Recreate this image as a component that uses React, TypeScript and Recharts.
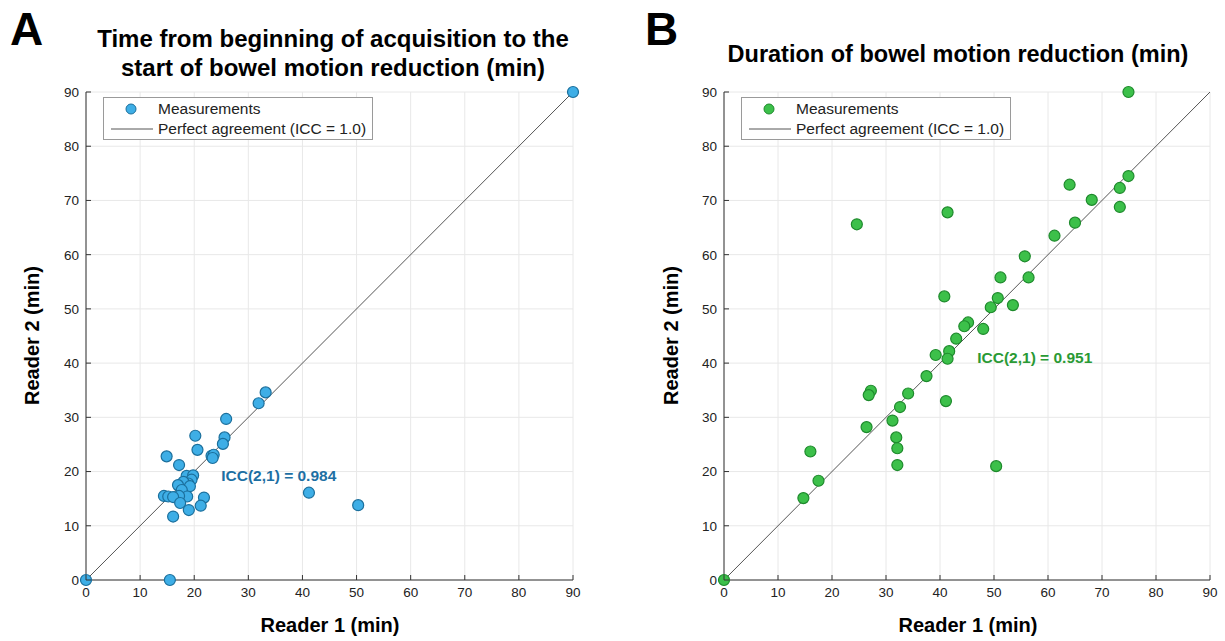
import React from "react";
import {
  ScatterChart,
  Scatter,
  XAxis,
  YAxis,
  CartesianGrid,
  ReferenceLine,
  ReferenceDot,
  Legend,
} from "recharts";

const FONT = '"Liberation Sans", Arial, Helvetica, sans-serif';

// axis ticks (min)
const ticks = [0, 10, 20, 30, 40, 50, 60, 70, 80, 90];

// Panel A: time to start of bowel motion reduction
const readerA1 = [
  0, 90, 15.5, 14.9, 17.2, 20.2, 20.6, 25.9, 25.6, 25.3, 31.9, 33.2, 23.2, 23.6,
  23.4, 18.6, 19.8, 19.5, 18.9, 18.0, 17.0, 19.2, 17.7, 18.7, 17.2, 14.4, 15.2,
  16.1, 21.8, 17.4, 21.2, 19.0, 16.1, 41.2, 50.3,
];
const readerA2 = [
  0, 90, 0, 22.8, 21.2, 26.6, 24.0, 29.7, 26.3, 25.1, 32.6, 34.6, 22.9, 23.1,
  22.5, 19.2, 19.3, 18.5, 17.8, 18.1, 17.5, 17.3, 16.6, 15.4, 15.5, 15.5, 15.4,
  15.3, 15.2, 14.2, 13.7, 12.9, 11.7, 16.1, 13.8,
];

// Panel B: duration of bowel motion reduction
const readerB1 = [
  0, 74.9, 14.7, 17.5, 16.0, 26.4, 31.2, 31.9, 32.1, 32.1, 32.6, 24.6, 41.4,
  40.8, 43.0, 39.2, 41.7, 41.4, 37.5, 34.1, 27.2, 26.8, 41.1, 74.9, 73.3, 73.3,
  64.0, 68.1, 65.0, 61.2, 55.7, 51.2, 56.4, 50.7, 49.4, 53.5, 48.0, 45.2, 44.5,
  50.4,
];
const readerB2 = [
  0, 90, 15.1, 18.3, 23.7, 28.2, 29.4, 26.3, 24.3, 21.2, 31.9, 65.6, 67.8, 52.3,
  44.5, 41.5, 42.2, 40.8, 37.6, 34.4, 34.9, 34.1, 33.0, 74.5, 72.3, 68.8, 72.9,
  70.1, 65.9, 63.5, 59.7, 55.8, 55.8, 52.0, 50.3, 50.7, 46.3, 47.5, 46.8, 21.0,
];

const TM = 7;

const XTick = (props: any) => {
  const { x, y, payload } = props;
  return (
    <g>
      <line x1={x} x2={x} y1={y - TM} y2={y - TM - 5} stroke="#333" />
      <text x={x} y={y} dy="0.75em" textAnchor="middle" fontSize={13.5} fill="#222" fontFamily={FONT}>
        {payload.value}
      </text>
    </g>
  );
};

const YTick = (props: any) => {
  const { x, y, payload } = props;
  return (
    <g>
      <line x1={x + TM} x2={x + TM + 5} y1={y} y2={y} stroke="#333" />
      <text x={x} y={y} dy="0.36em" textAnchor="end" fontSize={13.5} fill="#222" fontFamily={FONT}>
        {payload.value}
      </text>
    </g>
  );
};

function LegendBox({ fill, stroke }: { fill: string; stroke: string }) {
  return (
    <div
      style={{
        border: "1px solid #9a9a9a",
        background: "#fff",
        width: 268,
        height: 41,
        fontFamily: FONT,
        fontSize: 15.5,
        color: "#222",
        boxSizing: "content-box",
        whiteSpace: "nowrap",
      }}
    >
      <div style={{ display: "flex", alignItems: "center", height: 20, marginTop: 1 }}>
        <svg width={54} height={20}>
          <circle cx={27} cy={10} r={5} fill={fill} stroke={stroke} strokeWidth={1} />
        </svg>
        <span>Measurements</span>
      </div>
      <div style={{ display: "flex", alignItems: "center", height: 20 }}>
        <svg width={54} height={20}>
          <line x1={7} x2={49} y1={10} y2={10} stroke="#555" />
        </svg>
        <span>Perfect agreement (ICC = 1.0)</span>
      </div>
    </div>
  );
}

function Panel({
  r1,
  r2,
  fill,
  stroke,
  iccColor,
  iccText,
  iccX,
  iccY,
  width,
  marginLeft,
  marginRight,
}: any) {
  const data = r1.map((x: number, i: number) => ({ x, y: r2[i] }));
  return (
    <ScatterChart
      width={width}
      height={641}
      margin={{ top: 92, right: marginRight, bottom: 31, left: marginLeft }}
    >
      <CartesianGrid stroke="#e8e8e8" />
      <XAxis
        type="number"
        dataKey="x"
        domain={[0, 90]}
        ticks={ticks}
        tickSize={0}
        tickMargin={TM}
        tick={<XTick />}
        height={30}
        stroke="#333"
      />
      <YAxis
        type="number"
        dataKey="y"
        domain={[0, 90]}
        ticks={ticks}
        tickSize={0}
        tickMargin={TM}
        tick={<YTick />}
        width={40}
        stroke="#333"
      />
      <ReferenceLine
        segment={[
          { x: 0, y: 0 },
          { x: 90, y: 90 },
        ]}
        stroke="#555"
        strokeWidth={1}
      />
      <Scatter
        data={data}
        isAnimationActive={false}
        shape={(p: any) => (
          <circle cx={p.cx} cy={p.cy} r={5.5} fill={fill} stroke={stroke} strokeWidth={1.2} />
        )}
      />
      <ReferenceDot
        x={iccX}
        y={iccY}
        r={0}
        fill="none"
        stroke="none"
        label={{
          value: iccText,
          position: "right",
          offset: 0,
          fill: iccColor,
          fontSize: 15.5,
          fontWeight: "bold",
          fontFamily: FONT,
        }}
      />
      <Legend
        layout="vertical"
        align="center"
        verticalAlign="middle"
        wrapperStyle={{ top: 97, left: marginLeft + 40 + 17, width: "auto" }}
        content={() => <LegendBox fill={fill} stroke={stroke} />}
      />
    </ScatterChart>
  );
}

const abs = (s: React.CSSProperties): React.CSSProperties => ({
  position: "absolute",
  fontFamily: FONT,
  color: "#000",
  whiteSpace: "nowrap",
  ...s,
});

export default function App() {
  return (
    <div style={{ position: "absolute", left: 0, top: 0, width: 1225, height: 641, background: "#fff" }}>
      <div style={{ position: "absolute", left: 0, top: 0 }}>
        <Panel
          r1={readerA1}
          r2={readerA2}
          fill="#3eaee6"
          stroke="#1b6f9c"
          iccColor="#1d6fa3"
          iccText="ICC(2,1) = 0.984"
          iccX={25}
          iccY={19.2}
          width={612}
          marginLeft={46}
          marginRight={39}
        />
      </div>
      <div style={{ position: "absolute", left: 612, top: 0 }}>
        <Panel
          r1={readerB1}
          r2={readerB2}
          fill="#3cc04a"
          stroke="#1e8a2c"
          iccColor="#2a9a35"
          iccText="ICC(2,1) = 0.951"
          iccX={46.9}
          iccY={41.1}
          width={613}
          marginLeft={72}
          marginRight={15}
        />
      </div>

      <div style={abs({ left: 10, top: 2, fontSize: 46, fontWeight: "bold" })}>A</div>
      <div style={abs({ left: 645, top: 2, fontSize: 46, fontWeight: "bold" })}>B</div>

      <div style={abs({ left: 33, width: 600, top: 24, fontSize: 24, fontWeight: "bold", textAlign: "center", lineHeight: "29px" })}>
        Time from beginning of acquisition to the
        <br />
        start of bowel motion reduction (min)
      </div>
      <div style={abs({ left: 658, width: 600, top: 40, fontSize: 23.5, fontWeight: "bold", textAlign: "center", lineHeight: "29px" })}>
        Duration of bowel motion reduction (min)
      </div>

      <div style={abs({ left: 230, width: 200, top: 614, fontSize: 20, fontWeight: "bold", textAlign: "center" })}>
        Reader 1 (min)
      </div>
      <div style={abs({ left: 868, width: 200, top: 614, fontSize: 20, fontWeight: "bold", textAlign: "center" })}>
        Reader 1 (min)
      </div>

      <div
        style={abs({
          left: 32 - 100,
          width: 200,
          top: 336 - 12,
          fontSize: 20,
          fontWeight: "bold",
          textAlign: "center",
          transform: "rotate(-90deg)",
        })}
      >
        Reader 2 (min)
      </div>
      <div
        style={abs({
          left: 671 - 100,
          width: 200,
          top: 336 - 12,
          fontSize: 20,
          fontWeight: "bold",
          textAlign: "center",
          transform: "rotate(-90deg)",
        })}
      >
        Reader 2 (min)
      </div>
    </div>
  );
}
